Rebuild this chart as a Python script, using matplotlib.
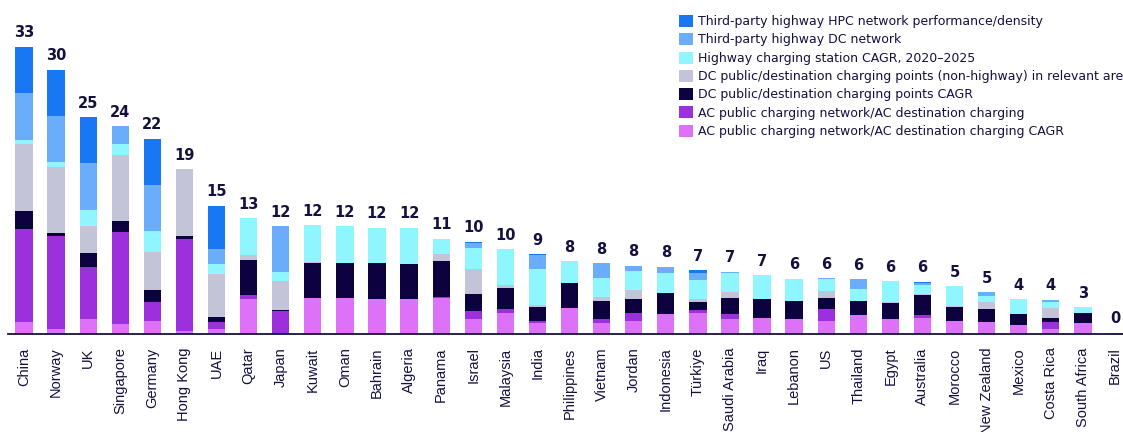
import matplotlib
matplotlib.use("Agg")
import matplotlib.pyplot as plt
import numpy as np
from matplotlib.patches import Patch

countries = ["China", "Norway", "UK", "Singapore", "Germany", "Hong Kong", "UAE", "Qatar",
             "Japan", "Kuwait", "Oman", "Bahrain", "Algeria", "Panama", "Israel", "Malaysia",
             "India", "Philippines", "Vietnam", "Jordan", "Indonesia", "Türkiye", "Saudi Arabia",
             "Iraq", "Lebanon", "US", "Thailand", "Egypt", "Australia", "Morocco", "New Zealand",
             "Mexico", "Costa Rica", "South Africa", "Brazil"]
totals = [33, 30, 25, 24, 22, 19, 15, 13, 12, 12, 12, 12, 12, 11, 10, 10, 9, 8, 8, 8, 8,
          7, 7, 7, 6, 6, 6, 6, 6, 5, 5, 4, 4, 3, 0]

# stacked from bottom to top
ac_cagr  = [1.33, 0.50, 1.61, 1.07, 1.42, 0.27, 0.50, 3.94, 0.00, 4.10, 4.06, 4.02, 4.02, 4.06, 1.61, 2.30,
            1.15, 2.91, 1.15, 1.38, 2.22, 2.34, 1.65, 1.80, 1.72, 1.49, 2.11, 1.61, 1.80, 1.42, 1.34,
            1.03, 0.50, 1.15, 0.00]
ac_net   = [10.65, 10.69, 6.01, 10.65, 2.15, 10.61, 0.80, 0.54, 2.64, 0.00, 0.00, 0.00, 0.00, 0.15, 1.03, 0.57,
            0.23, 0.00, 0.46, 0.92, 0.00, 0.31, 0.61, 0.00, 0.00, 1.38, 0.00, 0.00, 0.34, 0.00, 0.00,
            0.00, 0.77, 0.00, 0.00]
dc_cagr  = [2.10, 0.31, 1.69, 1.18, 1.38, 0.31, 0.61, 4.02, 0.10, 4.06, 4.06, 4.06, 4.02, 4.10, 1.95, 2.38,
            1.61, 2.91, 2.11, 1.72, 2.41, 0.96, 1.80, 2.18, 2.07, 1.19, 1.61, 1.95, 2.30, 1.65, 1.42,
            1.23, 0.54, 1.23, 0.00]
dc_pub   = [7.67, 7.62, 3.07, 7.62, 4.44, 7.67, 4.94, 0.50, 3.26, 0.05, 0.00, 0.00, 0.00, 0.80, 2.80, 0.27,
            0.27, 0.00, 0.46, 1.03, 0.00, 0.34, 0.69, 0.00, 0.00, 0.88, 0.00, 0.10, 0.15, 0.10, 0.88,
            0.00, 1.15, 0.00, 0.00]
hwy_cagr = [0.54, 0.54, 1.84, 1.23, 2.34, 0.00, 1.19, 4.22, 1.03, 4.22, 4.18, 4.10, 4.14, 1.80, 2.41, 4.14,
            4.14, 2.49, 2.15, 2.18, 2.38, 2.15, 2.18, 2.72, 2.53, 1.30, 1.34, 2.34, 0.96, 2.26, 0.65,
            1.69, 0.61, 0.61, 0.00]
dc_net   = [5.36, 5.36, 5.36, 2.07, 5.32, 0.00, 1.65, 0.05, 5.32, 0.00, 0.00, 0.00, 0.00, 0.00, 0.65, 0.00,
            1.57, 0.00, 1.76, 0.57, 0.69, 0.84, 0.15, 0.00, 0.00, 0.10, 1.15, 0.00, 0.23, 0.00, 0.46,
            0.00, 0.31, 0.00, 0.08]
hpc      = [5.30, 5.32, 5.29, 0.00, 5.36, 0.00, 5.02, 0.00, 0.00, 0.00, 0.00, 0.00, 0.00, 0.00, 0.12, 0.00,
            0.15, 0.00, 0.00, 0.00, 0.00, 0.31, 0.00, 0.00, 0.00, 0.00, 0.00, 0.00, 0.15, 0.00, 0.00,
            0.00, 0.00, 0.00, 0.00]

series = [
    ("AC public charging network/AC destination charging CAGR", ac_cagr, "#DD72F8"),
    ("AC public charging network/AC destination charging", ac_net, "#9B30DC"),
    ("DC public/destination charging points CAGR", dc_cagr, "#0D0140"),
    ("DC public/destination charging points (non-highway) in relevant areas", dc_pub, "#C4C4D8"),
    ("Highway charging station CAGR, 2020\u20132025", hwy_cagr, "#8FF5FF"),
    ("Third-party highway DC network", dc_net, "#6AADFA"),
    ("Third-party highway HPC network performance/density", hpc, "#1877F2"),
]

navy = "#14113F"
fig = plt.figure(figsize=(11.23, 4.32), dpi=100)
ax = fig.add_axes([8/1123, (432-333.5)/432, 1 - 8/1123, 333.5/432])

x = np.arange(len(countries))
bottom = np.zeros(len(countries))
for name, vals, col in series:
    v = np.array(vals)
    ax.bar(x, v, width=0.54, bottom=bottom, color=col, linewidth=0)
    bottom += v

for xi, tot, b in zip(x, totals, bottom):
    ax.text(xi, b + 0.75, str(tot), ha="center", va="bottom", fontsize=10.5,
            fontweight="bold", color=navy)

ax.set_xlim(-0.5, len(countries) - 1 + 0.25)
ax.set_ylim(0, 333.5 / 8.7)
ax.set_xticks(x)
ax.set_xticklabels(countries, rotation=90, fontsize=10.5, color=navy, family="Liberation Sans")
ax.tick_params(axis="x", length=0, pad=10)
ax.set_yticks([])
for s in ["top", "right", "left"]:
    ax.spines[s].set_visible(False)
ax.spines["bottom"].set_color(navy)
ax.spines["bottom"].set_linewidth(1.3)

handles = [Patch(facecolor=col, edgecolor="none", label=name) for name, vals, col in reversed(series)]
fig.legend(handles=handles, loc="upper left", bbox_to_anchor=(679/1123, 1 - 15/432),
           frameon=False, fontsize=9, labelcolor=navy, handlelength=1.1, handleheight=1.1,
           handletextpad=0.4, labelspacing=0.40, borderaxespad=0, borderpad=0)

fig.savefig("out.png", dpi=100)
